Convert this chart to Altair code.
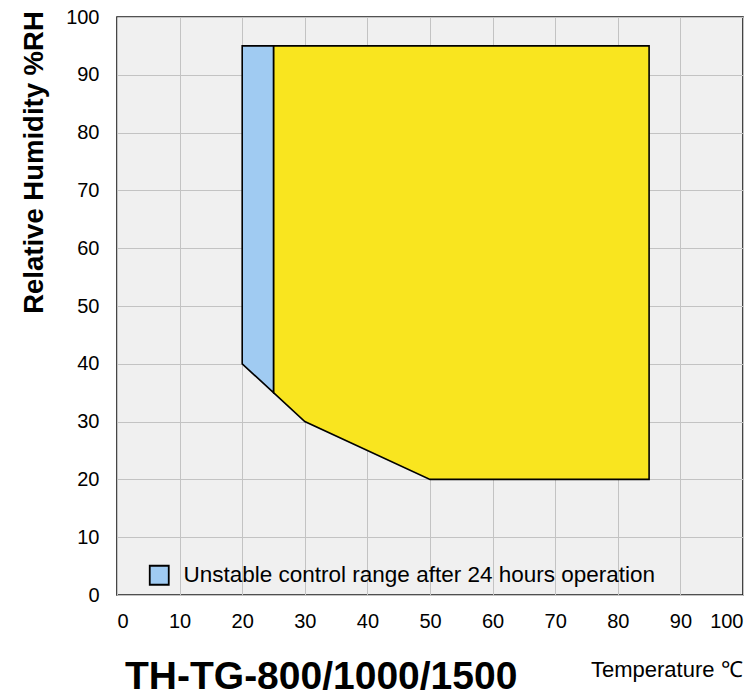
import altair as alt
import pandas as pd

# ---- data ----
temp_yellow = [25, 30, 50, 85]
rh_yellow_top = [95, 95, 95, 95]
rh_yellow_bottom = [35, 30, 20, 20]

temp_blue = [20, 25]
rh_blue_top = [95, 95]
rh_blue_bottom = [40, 35]

legend_label = "Unstable control range after 24 hours operation"
x_ticks = [0, 10, 20, 30, 40, 50, 60, 70, 80, 90, 100]
y_ticks = [0, 10, 20, 30, 40, 50, 60, 70, 80, 90, 100]
model_title = "TH-TG-800/1000/1500"
x_title = "Temperature \u2103"
y_title = "Relative Humidity %RH"

FONT = "Liberation Sans, Arial, sans-serif"

df_yellow = pd.DataFrame({"t": temp_yellow, "top": rh_yellow_top, "bot": rh_yellow_bottom})
df_blue = pd.DataFrame({"t": temp_blue, "top": rh_blue_top, "bot": rh_blue_bottom,
                        "label": [legend_label] * len(temp_blue)})

x_enc = alt.X("t:Q", scale=alt.Scale(domain=[0, 100], nice=False, zero=False),
              axis=alt.Axis(values=x_ticks, title=None, labelFontSize=20, labelFont=FONT,
                            labelColor="black", labelPadding=16, ticks=False, domain=False,
                            gridColor="#c3c3c3", gridWidth=1, labelFlush=True))
y_enc = alt.Y("top:Q", scale=alt.Scale(domain=[0, 100], nice=False, zero=False),
              axis=alt.Axis(values=y_ticks, title=y_title, labelFontSize=20, labelFont=FONT,
                            labelColor="black", labelPadding=18, ticks=False, domain=False,
                            gridColor="#c3c3c3", gridWidth=1, labelFlush=False,
                            titleFont=FONT, titleFontSize=27.5, titleFontWeight="bold",
                            titleColor="black", titleAngle=-90, titleX=-83, titleY=145,
                            titleAlign="center", titleBaseline="middle"))

yellow = alt.Chart(df_yellow).mark_area(
    color="#f9e51f", stroke="black", strokeWidth=1.6, opacity=1, fillOpacity=1
).encode(x=x_enc, y=y_enc, y2="bot:Q")

blue = alt.Chart(df_blue).mark_area(
    stroke="black", strokeWidth=1.6, opacity=1, fillOpacity=1
).encode(
    x="t:Q", y="top:Q", y2="bot:Q",
    fill=alt.Fill("label:N", scale=alt.Scale(domain=[legend_label], range=["#a0cbf2"]),
                  legend=alt.Legend(title=None, orient="none", legendX=31, legendY=547,
                                    symbolType="square", symbolSize=361,
                                    symbolStrokeColor="black", symbolStrokeWidth=1.8,
                                    symbolFillColor="#a0cbf2",
                                    labelFontSize=22.5, labelFont=FONT, labelColor="black",
                                    labelOffset=13, labelLimit=600, padding=0))
)

title_df = pd.DataFrame({"txt": [model_title]})
big_title = alt.Chart(title_df).mark_text(
    align="left", baseline="alphabetic", font=FONT, fontSize=39, fontWeight="bold",
    color="black"
).encode(text="txt:N", x=alt.value(8), y=alt.value(672))

xt_df = pd.DataFrame({"txt": [x_title]})
x_title_mark = alt.Chart(xt_df).mark_text(
    align="left", baseline="alphabetic", font=FONT, fontSize=22, color="black"
).encode(text="txt:N", x=alt.value(474), y=alt.value(660))

chart = alt.layer(yellow, blue, big_title, x_title_mark).properties(
    width=626, height=578,
    autosize=alt.AutoSizeParams(type="none"),
    padding={"left": 117, "top": 17, "right": 11, "bottom": 105},
    background="white",
).configure_view(
    fill="#f0f0f0", stroke="#1a1a1a", strokeWidth=1.6
)

chart.save("out.html", embed_options={"renderer": "svg", "actions": False})
